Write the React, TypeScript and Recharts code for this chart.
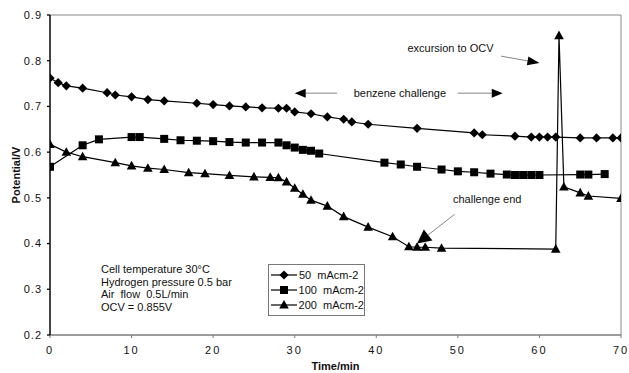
import React from "react";
import {
  LineChart,
  Line,
  XAxis,
  YAxis,
  ReferenceArea,
  ReferenceLine,
  ReferenceDot,
  Legend,
  Label,
} from "recharts";

// time (min) and cell potential (V) for each current density
const t50 = [0, 1, 2, 4, 7, 8, 10, 12, 14, 18, 20, 22, 24, 26, 28, 29, 30, 32, 34, 36, 37, 39, 45, 52, 53, 57, 59, 60, 61, 62, 65, 67, 69, 70];
const v50 = [0.762, 0.752, 0.745, 0.74, 0.73, 0.725, 0.721, 0.715, 0.712, 0.707, 0.704, 0.701, 0.699, 0.697, 0.696, 0.696, 0.688, 0.684, 0.677, 0.672, 0.666, 0.661, 0.652, 0.642, 0.638, 0.635, 0.633, 0.633, 0.633, 0.633, 0.631, 0.631, 0.631, 0.631];

const t100 = [0, 4, 6, 10, 11, 14, 16, 18, 20, 22, 24, 26, 28, 29, 30, 31, 32, 33, 41, 43, 45, 48, 50, 52, 54, 56, 57, 58, 59, 60, 65, 66, 68];
const v100 = [0.568, 0.615, 0.628, 0.633, 0.633, 0.629, 0.626, 0.625, 0.624, 0.622, 0.621, 0.621, 0.621, 0.615, 0.61, 0.605, 0.603, 0.597, 0.577, 0.573, 0.568, 0.562, 0.558, 0.556, 0.553, 0.551, 0.55, 0.55, 0.55, 0.55, 0.551, 0.551, 0.552];

const t200 = [0, 2, 4, 8, 10, 12, 14, 17, 19, 22, 25, 27, 28, 29, 30, 31, 32, 34, 36, 39, 42, 44, 45, 46, 48, 62, 62.4, 63, 65, 66, 70];
const v200 = [0.617, 0.6, 0.59, 0.577, 0.57, 0.565, 0.562, 0.555, 0.553, 0.549, 0.546, 0.545, 0.544, 0.535, 0.521, 0.508, 0.495, 0.482, 0.459, 0.436, 0.415, 0.393, 0.392, 0.392, 0.39, 0.388, 0.855, 0.524, 0.511, 0.504, 0.499];

const xTicks = [0, 10, 20, 30, 40, 50, 60, 70];
const yTicks = [0.2, 0.3, 0.4, 0.5, 0.6, 0.7, 0.8, 0.9];
const seriesNames = ["50  mAcm-2", "100  mAcm-2", "200  mAcm-2"];
const noteLines = [
  "Cell temperature 30\u00B0C",
  "Hydrogen pressure 0.5 bar",
  "Air  flow  0.5L/min",
  "OCV = 0.855V",
];

const toRows = (t: number[], v: number[]) => t.map((x, i) => ({ t: x, v: v[i] }));
const d50 = toRows(t50, v50);
const d100 = toRows(t100, v100);
const d200 = toRows(t200, v200);

const FONT = "'Liberation Sans', Arial, sans-serif";

const Diamond = ({ cx, cy }: any) => (
  <polygon points={`${cx},${cy - 4.6} ${cx + 4.6},${cy} ${cx},${cy + 4.6} ${cx - 4.6},${cy}`} fill="#000" />
);
const Square = ({ cx, cy }: any) => <rect x={cx - 4} y={cy - 4} width={8} height={8} fill="#000" />;
const Triangle = ({ cx, cy }: any) => (
  <polygon points={`${cx},${cy - 5} ${cx + 4.8},${cy + 3.6} ${cx - 4.8},${cy + 3.6}`} fill="#000" />
);
const markers = [Diamond, Square, Triangle];

// line with a filled head at (x2, y2)
const Arrow = (len: number, half: number, color = "#666") => (props: any) => {
  const { x1, y1, x2, y2 } = props;
  const dx = x2 - x1;
  const dy = y2 - y1;
  const d = Math.sqrt(dx * dx + dy * dy) || 1;
  const ux = dx / d;
  const uy = dy / d;
  const bx = x2 - ux * len;
  const by = y2 - uy * len;
  return (
    <g>
      <line x1={x1} y1={y1} x2={bx} y2={by} stroke={color} strokeWidth={0.8} />
      <polygon
        points={`${x2},${y2} ${bx - uy * half},${by + ux * half} ${bx + uy * half},${by - ux * half}`}
        fill="#000"
      />
    </g>
  );
};

const TextAt = (text: string) => (props: any) => (
  <text x={props.cx} y={props.cy} dy={4} textAnchor="middle" fontFamily={FONT} fontSize={11} fill="#111">
    {text}
  </text>
);

const NoteBlock = (props: any) => (
  <text x={props.cx} y={props.cy} fontFamily={FONT} fontSize={11} fill="#111" style={{ whiteSpace: "pre" }}>
    {noteLines.map((s, i) => (
      <tspan key={i} x={props.cx} dy={i === 0 ? 4 : 12.6}>
        {s}
      </tspan>
    ))}
  </text>
);

const LegendBox = () => (
  <div
    style={{
      border: "1px solid #777",
      background: "#fff",
      width: 95,
      padding: "2px 0",
      fontFamily: FONT,
      fontSize: 11,
      color: "#111",
    }}
  >
    {seriesNames.map((name, i) => {
      const M = markers[i];
      return (
        <div key={name} style={{ display: "flex", alignItems: "center", height: 15.4 }}>
          <svg width={28} height={12} style={{ marginLeft: 1 }}>
            <line x1={1} y1={6} x2={27} y2={6} stroke="#000" strokeWidth={1.2} />
            <M cx={14} cy={6} />
          </svg>
          <span style={{ whiteSpace: "pre", marginLeft: 1 }}>{name}</span>
        </div>
      );
    })}
  </div>
);

const App = () => {
  return (
    <div style={{ position: "absolute", left: 0, top: 0, background: "#fff" }}>
      <LineChart width={629} height={373} margin={{ top: 15, right: 8, bottom: 0, left: 0 }}>
        <XAxis
          dataKey="t"
          type="number"
          domain={[0, 70]}
          ticks={xTicks}
          allowDataOverflow
          height={38}
          stroke="#777"
          tickSize={3}
          tickMargin={8}
          tick={{ fill: "#111", fontSize: 11, fontFamily: FONT, letterSpacing: 2 }}
        >
          <Label
            content={({ viewBox }: any) => (
              <text
                x={viewBox.x + viewBox.width / 2}
                y={viewBox.y + 35}
                textAnchor="middle"
                fontFamily={FONT}
                fontWeight="bold"
                fontSize={11}
                fill="#111"
              >
                Time/min
              </text>
            )}
          />
        </XAxis>
        <YAxis
          dataKey="v"
          type="number"
          domain={[0.2, 0.9]}
          ticks={yTicks}
          width={50}
          stroke="#000"
          strokeWidth={1.3}
          tickSize={3}
          tickMargin={5}
          tickFormatter={(v: number) => v.toFixed(1)}
          tick={{ fill: "#111", fontSize: 11, fontFamily: FONT, letterSpacing: 1 }}
        >
          <Label
            content={({ viewBox }: any) => {
              const x = viewBox.x + 20;
              const y = viewBox.y + viewBox.height / 2;
              return (
                <text
                  x={x}
                  y={y}
                  transform={`rotate(-90, ${x}, ${y})`}
                  textAnchor="middle"
                  fontFamily={FONT}
                  fontWeight="bold"
                  fontSize={11}
                  fill="#111"
                >
                  Potential/V
                </text>
              );
            }}
          />
        </YAxis>
        <ReferenceArea x1={0} x2={70} y1={0.2} y2={0.9} fill="none" stroke="#888" strokeWidth={1} />

        <ReferenceDot x={49.1} y={0.827} r={0} shape={TextAt("excursion to OCV")} />
        <ReferenceLine segment={[{ x: 55.3, y: 0.81 }, { x: 60.0, y: 0.795 }]} shape={Arrow(12, 4.5)} />

        <ReferenceDot x={42.9} y={0.729} r={0} shape={TextAt("benzene challenge")} />
        <ReferenceLine segment={[{ x: 35.2, y: 0.729 }, { x: 30.0, y: 0.729 }]} shape={Arrow(11, 4.5)} />
        <ReferenceLine segment={[{ x: 50.0, y: 0.729 }, { x: 55.5, y: 0.729 }]} shape={Arrow(11, 4.5)} />

        <ReferenceDot x={53.6} y={0.497} r={0} shape={TextAt("challenge end")} />
        <ReferenceLine segment={[{ x: 49.6, y: 0.464 }, { x: 45.0, y: 0.4 }]} shape={Arrow(14, 7)} />

        <ReferenceDot x={6.25} y={0.344} r={0} shape={NoteBlock} />

        <Line data={d50} dataKey="v" name={seriesNames[0]} type="linear" stroke="#000" strokeWidth={1.2} dot={Diamond} isAnimationActive={false} />
        <Line data={d100} dataKey="v" name={seriesNames[1]} type="linear" stroke="#000" strokeWidth={1.2} dot={Square} isAnimationActive={false} />
        <Line data={d200} dataKey="v" name={seriesNames[2]} type="linear" stroke="#000" strokeWidth={1.2} dot={Triangle} isAnimationActive={false} />

        <Legend
          layout="vertical"
          align="center"
          verticalAlign="middle"
          wrapperStyle={{ left: 268, top: 264, width: 97 }}
          content={() => <LegendBox />}
        />
      </LineChart>
    </div>
  );
};

export default App;
